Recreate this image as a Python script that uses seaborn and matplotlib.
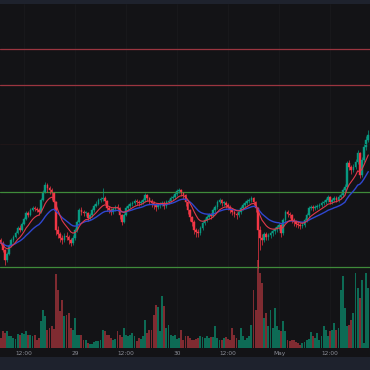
import numpy as np
import pandas as pd
import matplotlib
matplotlib.use("Agg")
import matplotlib.pyplot as plt
import seaborn as sns

# ---- data (30-minute candles, price in chart units) ----
closes = [107,100,90,96,104,110,113,117,122,120,
          126,131,137,135,140,142,141,140,138,150,
          158,165,162,160,157,148,120,116,112,110,
          114,113,110,107,112,120,128,140,138,137,
          137,132,135,140,144,146,150,151,152,149,
          142,140,138,141,143,142,135,128,135,142,
          144,146,147,149,148,147,148,150,155,152,
          149,147,145,143,145,146,147,144,148,149,
          152,153,156,159,160,157,155,148,140,133,
          128,120,118,117,122,127,130,133,135,134,
          140,143,148,150,147,147,145,143,140,138,
          136,135,138,142,145,147,149,150,152,148,
          142,120,112,110,116,113,115,117,119,121,
          123,125,117,130,138,136,135,130,128,126,
          125,124,125,130,135,142,143,142,143,144,
          145,147,148,150,153,148,150,152,150,153,
          155,160,163,187,183,180,183,188,197,175,
          190,203,210,215]
opens = [110] + closes[:-1]
highs = [112,109,101,98,106,112,115,119,124,125,
         128,133,139,139,142,144,144,143,142,152,
         160,168,167,164,162,158,149,124,118,115,
         117,118,115,112,115,122,130,142,143,140,
         139,138,137,142,146,149,152,153,162,154,
         150,144,142,143,145,146,143,136,137,144,
         146,148,149,151,151,150,150,152,157,156,
         153,151,149,147,147,148,149,149,150,151,
         154,155,158,161,162,161,158,156,149,141,
         134,130,122,121,124,129,132,135,137,137,
         142,145,150,152,151,149,149,147,145,142,
         140,138,140,144,147,149,151,152,154,153,
         149,143,124,116,118,118,117,119,121,123,
         125,127,126,132,140,140,138,136,132,130,
         128,127,127,132,137,144,145,145,145,146,
         147,149,150,152,155,154,152,154,154,155,
         157,162,166,189,190,185,186,191,200,198,
         193,206,214,220]
lows = [105,98,85,88,95,103,108,112,116,118,
        119,125,130,133,134,139,139,138,135,137,
        149,157,158,156,150,140,115,112,108,106,
        108,110,106,104,105,110,118,127,135,134,
        134,129,130,133,138,143,145,148,149,146,
        139,137,135,136,139,139,131,125,127,134,
        140,142,144,145,145,144,145,146,148,149,
        146,143,141,139,141,142,144,141,142,146,
        147,150,151,154,157,154,151,144,136,129,
        124,116,113,113,115,120,125,128,131,131,
        133,138,141,146,144,144,142,140,137,135,
        133,131,133,136,140,143,145,147,148,145,
        138,82,100,105,108,110,110,112,114,116,
        118,120,113,115,128,133,132,127,124,123,
        122,121,122,123,128,133,140,139,140,141,
        142,143,145,146,148,146,146,148,148,148,
        151,153,158,161,180,176,178,181,186,172,
        173,188,200,208]
volumes = [10,17,15,17,12,12,10,9,14,13,
           15,14,17,13,13,12,13,8,10,27,
           38,32,18,20,22,19,74,58,37,48,
           32,33,35,20,18,30,13,13,13,8,
           8,5,4,4,6,7,7,8,18,17,
           13,13,10,8,9,17,13,11,20,13,
           12,13,15,12,7,10,9,12,28,15,
           18,18,33,43,41,17,52,42,20,23,
           13,12,13,9,10,18,8,12,12,10,
           8,8,9,10,12,11,10,12,10,11,
           11,22,10,8,8,10,11,9,8,20,
           13,10,8,20,12,8,10,12,23,58,
           38,88,75,65,30,35,22,38,20,40,
           22,18,17,27,17,8,7,8,8,6,
           5,3,5,6,8,9,16,12,10,15,
           8,12,22,18,12,17,18,25,18,20,
           58,72,40,22,23,28,35,75,60,50,
           68,5,75,60]
start_hour = 6.5          # first candle: 28 Apr 06:30
step_hours = 0.5
res_levels = [301, 265]   # red horizontal levels
sup_levels = [158, 83]    # green horizontal levels
faint_level = 206
tick_hours = [12, 24, 36, 48, 60, 72, 84]
tick_labels = ["12:00", "29", "12:00", "30", "12:00", "May", "12:00"]

df = pd.DataFrame({"open": opens, "high": highs, "low": lows,
                   "close": closes, "volume": volumes})
df["t"] = start_hour + step_hours * np.arange(len(df))
df["up"] = df["close"] >= df["open"]
df["ema_fast"] = df["close"].ewm(span=9, adjust=False).mean()
df["ema_slow"] = df["close"].ewm(span=21, adjust=False).mean()

sns.set_theme(style="dark")

W, H = 370, 370
fig = plt.figure(figsize=(W / 100, H / 100), dpi=100, facecolor="#1e222d")

def frac(y0, y1):
    return (H - y1) / H, (y1 - y0) / H

# background (plot + time strip)
b, h = frac(4, 357)
bg = fig.add_axes([0, b, 1, h])
bg.set_facecolor("#131316")
bg.set_xticks([]); bg.set_yticks([])
for s in bg.spines.values():
    s.set_visible(False)

b, h = frac(4, 348)
xlim = (6.35, 6.35 + W / 4.25)
ax_v = fig.add_axes([0, b, 1, h])
ax = fig.add_axes([0, b, 1, h])
for a in (ax_v, ax):
    a.set_xlim(*xlim)
    a.patch.set_alpha(0)
    for s in a.spines.values():
        s.set_visible(False)
    a.grid(False)

# volume
ax_v.set_ylim(0, 344)
vcol = np.where(df["up"], "#0d6b55", "#7f2b31")
ax_v.bar(df["t"], df["volume"], width=0.42, color=vcol, linewidth=0)
ax_v.set_xticks([]); ax_v.set_yticks([])
for th in tick_hours:
    ax_v.axvline(th, color="#19191d", lw=0.6, zorder=0)

# price
ax.set_ylim(2, 346)
ax.axhline(faint_level, color="#221719", lw=0.6)
for lv in res_levels:
    ax.axhline(lv, color="#9b3540", lw=0.9)
for lv in sup_levels:
    ax.axhline(lv, color="#3f8b3a", lw=0.9)

ccol = np.where(df["up"], "#089981", "#f23645")
ax.vlines(df["t"], df["low"], df["high"], colors=ccol, lw=0.5)
body_bottom = np.minimum(df["open"], df["close"])
body_h = np.maximum(np.abs(df["close"] - df["open"]), 0.8)
ax.bar(df["t"], body_h, bottom=body_bottom, width=0.40, color=ccol,
       linewidth=0.3, edgecolor=ccol)

sns.lineplot(data=df, x="t", y="ema_slow", ax=ax, color="#2f47d0", lw=1.0)
sns.lineplot(data=df, x="t", y="ema_fast", ax=ax, color="#e0394b", lw=0.8)
ax.set_xlabel(""); ax.set_ylabel("")
ax.set_yticks([])
ax.set_xticks(tick_hours)
ax.set_xticklabels(tick_labels, fontsize=4.2, color="#8a8d96")
ax.tick_params(axis="x", length=0, pad=2.2)

fig.savefig("out.png", dpi=100, facecolor=fig.get_facecolor())
